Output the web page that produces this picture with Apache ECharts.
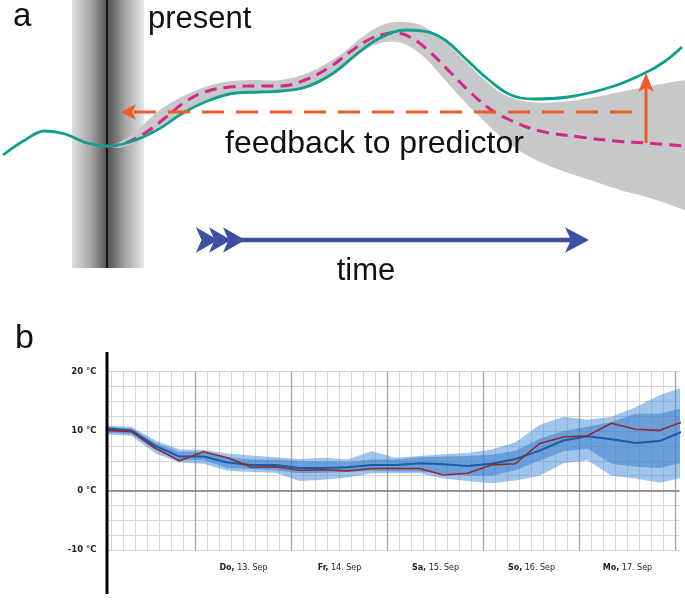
<!DOCTYPE html>
<html>
<head>
<meta charset="utf-8">
<script src="https://cdn.jsdelivr.net/npm/echarts@6/dist/echarts.min.js"></script>
<style>html,body{margin:0;padding:0;background:#fff}#c{width:685px;height:600px}</style>
</head>
<body>
<div id="c"></div>
<script>
// ---------------- Panel a : schematic (drawing units) ----------------
const tealCurve = [[3,155],[25,140],[45,131],[65,134],[87,143],[107,146],[130,142],[157,130],[183,113],[210,100],[236,93],[260,92],[282,91],[306,87],[332,74],[358,53],[380,38],[406,30],[428,32],[445,40],[467,60],[489,80],[511,95],[533,99],[568,97],[611,87],[645,73],[664,62],[682,47]];
const magentaCurve = [[107,147],[125,143],[145,133],[165,118],[185,102],[205,92],[230,87],[255,86],[280,86],[305,80],[330,67],[350,52],[370,39],[385,34],[395,33],[410,37],[430,52],[450,72],[470,92],[490,109],[510,120],[540,131],[580,137],[615,141],[645,143],[685,146]];
const bandX     = [107,130,160,190,220,250,280,310,340,365,385,405,425,445,465,485,505,530,560,590,620,650,685];
const bandUpper = [147,136,110,93, 83, 80, 80, 72, 55, 35, 24, 22, 27, 42, 61, 80, 95, 102,102,98, 92, 86, 80];
const bandLower = [148,145,126,108,96, 93, 92, 87, 70, 50, 42, 44, 58, 80, 102,122,140,157,170,180,190,198,210];
const presentLine = [[107,0],[107,268]];
const presentBand = [72,144,0,268];          // x0, x1, y0, y1
const feedbackShaft = [[632,112],[130,112]];
const correctionShaft = [[646,143],[646,84]];
const timeShaft = [[215,240],[575,240]];
// arrow heads: tip positions
const orangeHeads = [{value:[121,112],symbolRotate:90,symbolSize:[11.5,15]},{value:[646,73],symbolRotate:0,symbolSize:[11.5,19]}];
const blueHeads = [{value:[589,240],symbolSize:[19,24]},{value:[218,240],symbolSize:[19,22]},{value:[231,240],symbolSize:[19,22]},{value:[245,240],symbolSize:[19,22]}];

// ---------------- Panel b : temperature forecast ----------------
// hours relative to Do, 13. Sep 00:00
const hours = [-22,-16,-10,-4,2,8,14,20,26,32,38,44,50,56,62,68,74,80,86,92,98,104,110,116,122];
const observed  = [10.1,9.9,7.1,5.0,6.5,5.5,3.9,4.0,3.4,3.5,3.3,3.7,3.7,3.7,2.6,2.9,4.3,4.5,7.9,9.0,9.2,11.3,10.3,10.1,11.6];
const ensMean   = [10.4,10.1,7.5,5.7,5.7,4.7,4.3,4.3,3.8,3.8,3.9,4.3,4.3,4.6,4.4,4.1,4.5,5.3,6.7,8.4,9.1,8.6,8.0,8.3,10.0];
const innerLow  = [9.7,9.5,6.8,5.2,5.1,3.8,3.6,3.4,2.9,3.0,3.1,3.3,3.2,3.2,2.8,2.5,2.5,3.4,5.0,6.6,7.0,4.5,4.0,3.8,4.7];
const innerHigh = [10.7,10.4,8.0,6.5,6.5,5.6,5.2,5.2,4.9,4.9,4.8,5.2,5.2,5.6,5.7,5.8,6.0,6.7,8.7,10.0,10.7,11.5,12.9,12.9,13.9];
const outerLow  = [9.4,9.2,6.2,4.7,4.5,3.3,3.1,3.0,1.6,1.8,2.2,2.9,2.9,2.9,2.0,1.6,1.2,1.7,2.5,4.6,5.1,2.5,2.0,1.3,2.2];
const outerHigh = [10.9,10.7,8.4,6.9,6.8,6.2,5.9,5.6,5.3,5.5,5.2,6.6,5.5,5.8,6.1,6.3,6.9,8.1,11.0,12.4,11.9,12.4,14.0,16.0,17.4];
const dayNames = ['Do','Fr','Sa','So','Mo'];
const dayDates = ['13. Sep','14. Sep','15. Sep','16. Sep','17. Sep'];
const dayNoon  = [12,36,60,84,108];
const majorHours = [0,24,48,72,96,120];
const minorHours = [];
for (let h = -21; h <= 120; h += 3) minorHours.push(h);

const pairs = (xs, ys) => xs.map((x, i) => [x, ys[i]]);

// smooth (Catmull-Rom) path through pixel points
function smoothSeg(pts, k, first) {
  let d = first ? 'M' + pts[0][0] + ',' + pts[0][1] : 'L' + pts[0][0] + ',' + pts[0][1];
  for (let i = 0; i < pts.length - 1; i++) {
    const p0 = pts[Math.max(0, i - 1)], p1 = pts[i], p2 = pts[i + 1], p3 = pts[Math.min(pts.length - 1, i + 2)];
    const c1 = [p1[0] + (p2[0] - p0[0]) * k, p1[1] + (p2[1] - p0[1]) * k];
    const c2 = [p2[0] - (p3[0] - p1[0]) * k, p2[1] - (p3[1] - p1[1]) * k];
    d += 'C' + c1[0] + ',' + c1[1] + ' ' + c2[0] + ',' + c2[1] + ' ' + p2[0] + ',' + p2[1];
  }
  return d;
}
function bandSeries(name, xAxisIndex, xs, lo, hi, color, z, smooth) {
  return {
    type: 'custom', name, xAxisIndex, yAxisIndex: xAxisIndex, z, clip: true, silent: true,
    data: [[xs[0], lo[0]]],
    renderItem: (params, api) => {
      if (params.dataIndex !== 0) return null;
      const top = xs.map((x, i) => api.coord([x, hi[i]]));
      const bot = xs.map((x, i) => api.coord([x, lo[i]])).reverse();
      if (smooth) {
        const d = smoothSeg(top, 0.18, true) + smoothSeg(bot, 0.18, false) + 'Z';
        return {type: 'path', shape: {pathData: d}, style: {fill: color}};
      }
      return {type: 'polygon', shape: {points: top.concat(bot)}, style: {fill: color}};
    }
  };
}

const FONT = 'Liberation Sans, Arial, Helvetica, sans-serif';
const chart = echarts.init(document.getElementById('c'), null, {renderer: 'canvas'});

const gridLines = [
  ...minorHours.map(h => ({xAxis: h, lineStyle: {color: '#d6d6d6', width: 1, type: 'solid'}})),
  ...majorHours.map(h => ({xAxis: h, lineStyle: {color: '#a4a4a4', width: 1.3, type: 'solid'}})),
  {yAxis: 0, lineStyle: {color: '#7a7a7a', width: 1.5, type: 'solid'}}
];

chart.setOption({
  backgroundColor: '#fff',
  animation: false,
  grid: [
    {left: 0, top: 0, width: 685, height: 290, outerBoundsMode: 'none'},
    {left: 107.5, top: 371.5, width: 572, height: 178.5, outerBoundsMode: 'none'}
  ],
  xAxis: [
    {type: 'value', gridIndex: 0, min: 0, max: 685, show: false},
    {type: 'value', gridIndex: 1, min: -22, max: 121,
     axisLine: {show: false}, axisTick: {show: false}, splitLine: {show: false},
     axisLabel: {
       customValues: dayNoon, margin: 14, fontSize: 8, fontFamily: 'DejaVu Sans', color: '#222',
       formatter: v => { const i = dayNoon.indexOf(v); return i < 0 ? '' : '{b|' + dayNames[i] + ',} ' + dayDates[i]; },
       rich: {b: {fontWeight: 'bold', fontSize: 8, fontFamily: 'DejaVu Sans', color: '#222'}}
     }}
  ],
  yAxis: [
    {type: 'value', gridIndex: 0, min: 0, max: 290, inverse: true, show: false},
    {type: 'value', gridIndex: 1, min: -10, max: 20, interval: 2.5,
     axisLine: {show: false}, axisTick: {show: false},
     splitLine: {show: true, lineStyle: {color: '#d6d6d6', width: 1}},
     axisLabel: {margin: 11, fontSize: 8.5, fontWeight: 'bold', fontFamily: 'DejaVu Sans', color: '#222',
       formatter: v => (v % 10 === 0 ? v + ' °C' : '')}}
  ],
  graphic: [
    {type: 'line', shape: {x1: 107, y1: 352, x2: 107, y2: 594}, style: {stroke: '#000', lineWidth: 3}, z: 10},
    {type: 'text', x: 13, y: 17, style: {text: 'a', font: '33px ' + FONT, fill: '#111', verticalAlign: 'middle'}, z: 10},
    {type: 'text', x: 148, y: 19, style: {text: 'present', font: '31px ' + FONT, fill: '#111', verticalAlign: 'middle'}, z: 10},
    {type: 'text', x: 225, y: 144, style: {text: 'feedback to predictor', font: '32px ' + FONT, fill: '#111', verticalAlign: 'middle'}, z: 10},
    {type: 'text', x: 366, y: 271, style: {text: 'time', font: '31px ' + FONT, fill: '#111', align: 'center', verticalAlign: 'middle'}, z: 10},
    {type: 'text', x: 15, y: 339, style: {text: 'b', font: '34px ' + FONT, fill: '#111', verticalAlign: 'middle'}, z: 10}
  ],
  series: [
    // ---- panel a ----
    {type: 'line', name: 'present', xAxisIndex: 0, yAxisIndex: 0, data: presentLine, symbol: 'none', z: 3,
     lineStyle: {color: '#000', width: 1.6},
     markArea: {silent: true, z: 1, data: [[{xAxis: presentBand[0], yAxis: presentBand[2]}, {xAxis: presentBand[1], yAxis: presentBand[3]}]],
       itemStyle: {color: {type: 'linear', x: 0, y: 0, x2: 1, y2: 0, colorStops: [
         {offset: 0, color: '#dedede'}, {offset: 0.25, color: '#a8a8a8'}, {offset: 0.47, color: '#5a5a5a'},
         {offset: 0.53, color: '#5a5a5a'}, {offset: 0.75, color: '#a8a8a8'}, {offset: 1, color: '#e6e6e6'}]}}}},
    bandSeries('uncertainty', 0, bandX, bandUpper, bandLower, '#c7c8c9', 2, true),
    {type: 'line', name: 'prediction', xAxisIndex: 0, yAxisIndex: 0, data: magentaCurve, symbol: 'none', smooth: 0.4, z: 4,
     lineStyle: {color: '#d2288c', width: 3, type: [12, 7]}},
    {type: 'line', name: 'actual', xAxisIndex: 0, yAxisIndex: 0, data: tealCurve, symbol: 'none', smooth: 0.4, z: 5,
     lineStyle: {color: '#0fa08b', width: 2.8}},
    {type: 'line', name: 'feedback', xAxisIndex: 0, yAxisIndex: 0, data: feedbackShaft, symbol: 'none', z: 6,
     lineStyle: {color: '#f05a2a', width: 3, type: [22, 12]}},
    {type: 'line', name: 'correction', xAxisIndex: 0, yAxisIndex: 0, data: correctionShaft, symbol: 'none', z: 6,
     lineStyle: {color: '#f05a2a', width: 3}},
    {type: 'scatter', name: 'orangeHeads', xAxisIndex: 0, yAxisIndex: 0, data: orangeHeads, symbol: 'arrow', z: 7,
     itemStyle: {color: '#f05a2a', opacity: 1}, silent: true},
    {type: 'line', name: 'time', xAxisIndex: 0, yAxisIndex: 0, data: timeShaft, symbol: 'none', z: 6,
     lineStyle: {color: '#3e50a2', width: 4.5}},
    {type: 'scatter', name: 'blueHeads', xAxisIndex: 0, yAxisIndex: 0, data: blueHeads, symbol: 'arrow', symbolRotate: -90, z: 7,
     itemStyle: {color: '#3e50a2', opacity: 1}, silent: true},
    // ---- panel b ----
    {type: 'line', name: 'gridHelper', xAxisIndex: 1, yAxisIndex: 1, data: pairs(hours, ensMean),
     symbol: 'none', lineStyle: {width: 0, opacity: 0}, z: 1, silent: true,
     markLine: {silent: true, z: 1, symbol: ['none', 'none'], label: {show: false}, animation: false, data: gridLines}},
    bandSeries('outer', 1, hours, outerLow, outerHigh, 'rgba(66,140,220,0.5)', 2, false),
    bandSeries('inner', 1, hours, innerLow, innerHigh, 'rgba(52,121,201,0.5)', 3, false),
    {type: 'line', name: 'mean', xAxisIndex: 1, yAxisIndex: 1, data: pairs(hours, ensMean), symbol: 'none', z: 4,
     lineStyle: {color: '#1b5aa6', width: 2}},
    {type: 'line', name: 'observed', xAxisIndex: 1, yAxisIndex: 1, data: pairs(hours, observed), symbol: 'none', z: 5,
     lineStyle: {color: '#8e2a2e', width: 1.6}}
  ]
});
</script>
</body>
</html>
